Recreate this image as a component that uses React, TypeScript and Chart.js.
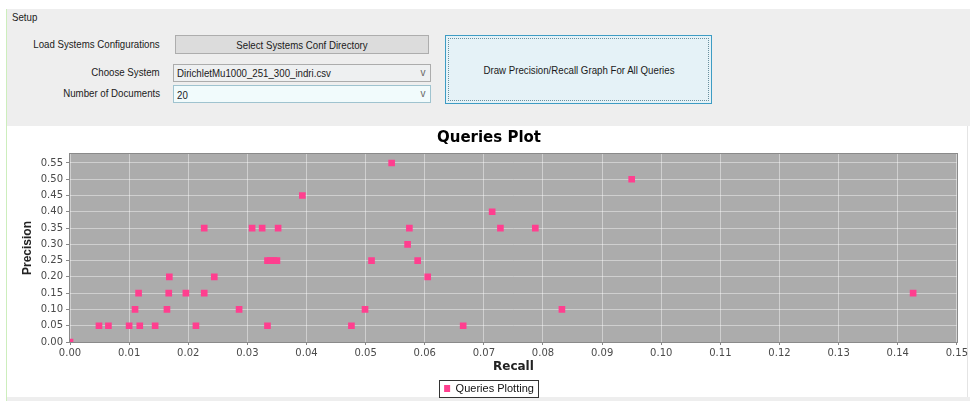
import React, { useEffect, useRef } from "react";
import { Chart, registerables } from "chart.js";

Chart.register(...registerables);

// ---- data ----
const chartTitle = "Queries Plot";
const seriesLabel = "Queries Plotting";
const xAxisTitle = "Recall";
const yAxisTitle = "Precision";

const recallValues = [
  0.0,
  0.0049, 0.0065, 0.01, 0.0118, 0.0144, 0.0213, 0.0334, 0.0476, 0.0665,
  0.011, 0.0164, 0.0286, 0.0499, 0.0832,
  0.0116, 0.0167, 0.0196, 0.0227, 0.1426,
  0.0168, 0.0244, 0.0605,
  0.0334, 0.0339, 0.0345, 0.035, 0.051, 0.0588,
  0.0571,
  0.0227, 0.0308, 0.0325, 0.0352, 0.0574, 0.0728, 0.0787,
  0.0714,
  0.0393,
  0.095,
  0.0544,
];
const precisionValues = [
  0.0,
  0.05, 0.05, 0.05, 0.05, 0.05, 0.05, 0.05, 0.05, 0.05,
  0.1, 0.1, 0.1, 0.1, 0.1,
  0.15, 0.15, 0.15, 0.15, 0.15,
  0.2, 0.2, 0.2,
  0.25, 0.25, 0.25, 0.25, 0.25, 0.25,
  0.3,
  0.35, 0.35, 0.35, 0.35, 0.35, 0.35, 0.35,
  0.4,
  0.45,
  0.5,
  0.55,
];

const xMin = 0;
const xMax = 0.15;
const xStep = 0.01;
const yMin = 0;
const yMax = 0.5775;
const yStep = 0.05;

const UI_FONT = '"Liberation Sans", Arial, sans-serif';

type TProps = {
  x: number;
  y: number;
  text: string;
  anchor?: "left" | "right" | "center";
  size?: number;
  sx?: number;
  color?: string;
};

function Txt({ x, y, text, anchor = "left", size = 11, sx = 0.88, color = "#1a1a1a" }: TProps) {
  const style: React.CSSProperties = {
    position: "absolute",
    top: y - 7,
    height: 14,
    lineHeight: "14px",
    fontSize: size,
    whiteSpace: "nowrap",
    color,
    transform: `scaleX(${sx})`,
  };
  if (anchor === "left") {
    style.left = x;
    style.transformOrigin = "left center";
  } else if (anchor === "right") {
    style.right = 970 - x;
    style.transformOrigin = "right center";
  } else {
    style.left = x - 200;
    style.width = 400;
    style.textAlign = "center";
    style.transformOrigin = "center center";
  }
  return <div style={style}>{text}</div>;
}

function Box({ l, t, w, h, bg, border }: { l: number; t: number; w: number; h: number; bg: string; border: string }) {
  return (
    <div
      style={{
        position: "absolute",
        left: l,
        top: t,
        width: w,
        height: h,
        background: bg,
        border: `1px solid ${border}`,
        boxSizing: "border-box",
      }}
    />
  );
}

const decorPlugin = {
  id: "decor",
  beforeDraw(chart: any) {
    const { ctx, chartArea: a } = chart;
    ctx.save();
    ctx.fillStyle = "#acacac";
    ctx.fillRect(a.left, a.top, a.right - a.left, a.bottom - a.top);
    ctx.restore();
  },
  afterDraw(chart: any) {
    const { ctx, chartArea: a } = chart;
    ctx.save();
    ctx.strokeStyle = "#8a8a8a";
    ctx.lineWidth = 1;
    ctx.strokeRect(Math.round(a.left) - 0.5, Math.round(a.top) - 0.5, Math.round(a.right - a.left) + 1, Math.round(a.bottom - a.top) + 1);
    const lg = chart.legend;
    if (lg && lg.legendHitBoxes && lg.legendHitBoxes.length) {
      const hb = lg.legendHitBoxes[0];
      const cy = hb.top + hb.height / 2;
      ctx.strokeStyle = "#333";
      ctx.strokeRect(Math.round(hb.left - 5) + 0.5, Math.round(cy - 8.5) + 0.5, Math.round(hb.width + 9), 17);
    }
    ctx.restore();
  },
};

function PlotCanvas() {
  const ref = useRef<HTMLCanvasElement | null>(null);
  useEffect(() => {
    if (!ref.current) return;
    const points = recallValues.map((r, i) => ({ x: r, y: precisionValues[i] }));
    const tickFont = { family: '"DejaVu Sans", Verdana, sans-serif', size: 10 };
    const chart = new Chart(ref.current, {
      type: "scatter",
      data: {
        datasets: [
          {
            label: seriesLabel,
            data: points,
            pointStyle: "rect",
            pointRadius: 4.7,
            pointHoverRadius: 4.7,
            pointBackgroundColor: "#ff3f8f",
            pointBorderWidth: 0,
            backgroundColor: "#ff3f8f",
            borderColor: "#ff3f8f",
            borderWidth: 0,
          },
        ],
      },
      options: {
        animation: false,
        responsive: false,
        devicePixelRatio: 1,
        layout: { padding: { left: 0, right: 0, top: 0, bottom: 0 } },
        plugins: {
          title: {
            display: true,
            text: chartTitle,
            color: "#000",
            font: { family: '"DejaVu Sans", Verdana, sans-serif', size: 15, weight: "bold" },
            padding: { top: 4, bottom: 7 },
          },
          legend: {
            display: true,
            position: "bottom",
            labels: {
              boxWidth: 6,
              boxHeight: 7,
              padding: 4,
              color: "#111",
              font: { family: UI_FONT, size: 11 },
            },
          },
          tooltip: { enabled: false },
        },
        scales: {
          x: {
            type: "linear",
            min: xMin,
            max: xMax,
            ticks: {
              stepSize: xStep,
              includeBounds: false,
              autoSkip: false,
              maxRotation: 0,
              font: tickFont,
              color: "#4a4a4a",
              padding: 2,
              callback: (v: any) => Number(v).toFixed(2),
            },
            grid: {
              color: "rgba(255,255,255,0.42)",
              lineWidth: 1,
              tickLength: 3,
              tickColor: "#888",
            },
            border: { display: false },
            title: {
              display: true,
              text: xAxisTitle,
              color: "#222",
              font: { family: '"DejaVu Sans", Verdana, sans-serif', size: 12, weight: "bold" },
              padding: { top: 0, bottom: 5 },
            },
            afterFit: (s: any) => {
              s.height = 37;
            },
          },
          y: {
            type: "linear",
            min: yMin,
            max: yMax,
            ticks: {
              stepSize: yStep,
              includeBounds: false,
              font: tickFont,
              color: "#4a4a4a",
              padding: 3,
              callback: (v: any) => Number(v).toFixed(2),
            },
            grid: {
              color: "rgba(255,255,255,0.42)",
              lineWidth: 1,
              tickLength: 4,
              tickColor: "#888",
            },
            border: { display: false },
            title: {
              display: true,
              text: yAxisTitle,
              color: "#222",
              font: { family: UI_FONT, size: 12, weight: "bold" },
              padding: { top: 12, bottom: 0 },
            },
            afterFit: (s: any) => {
              s.width = 62;
            },
          },
        },
      },
      plugins: [decorPlugin],
    } as any);
    return () => chart.destroy();
  }, []);
  return (
    <canvas
      ref={ref}
      width={962}
      height={279}
      style={{ position: "absolute", left: 8, top: 125, width: 962, height: 279 }}
    />
  );
}

export default function App() {
  return (
    <div
      style={{
        position: "fixed",
        left: 0,
        top: 0,
        width: 970,
        height: 401,
        background: "#ffffff",
        overflow: "hidden",
        fontFamily: UI_FONT,
      }}
    >
      {/* setup panel */}
      <div style={{ position: "absolute", left: 7, top: 9, width: 963, height: 117, background: "#eeeeee" }} />
      {/* chart panel */}
      <div style={{ position: "absolute", left: 8, top: 126, width: 960, height: 271, background: "#ffffff" }} />
      <div style={{ position: "absolute", left: 7, top: 397, width: 963, height: 4, background: "#eeeeee" }} />
      <div style={{ position: "absolute", left: 6, top: 9, width: 1, height: 392, background: "#cdeebd" }} />
      <div style={{ position: "absolute", left: 967, top: 126, width: 1, height: 271, background: "#e4e4e4" }} />

      <Txt x={12} y={17} text="Setup" />
      <Txt x={160} y={44} text="Load Systems Configurations" anchor="right" />
      <Box l={175} t={35} w={254} h={19} bg="#dcdcdc" border="#adadad" />
      <Txt x={302} y={44.5} text="Select Systems Conf Directory" anchor="center" />

      <Txt x={160} y={72} text="Choose System" anchor="right" />
      <Box l={173} t={64} w={258} h={18} bg="#eef0f1" border="#acacac" />
      <Txt x={177} y={73} text="DirichletMu1000_251_300_indri.csv" />
      <Txt x={423} y={73} text="v" anchor="center" color="#666" sx={1} size={10} />

      <Txt x={160} y={93} text="Number of Documents" anchor="right" />
      <Box l={173} t={85} w={258} h={18} bg="#f1fbfc" border="#9fc3cf" />
      <Txt x={177} y={94.5} text="20" />
      <Txt x={423} y={94} text="v" anchor="center" color="#666" sx={1} size={10} />

      <Box l={445} t={35} w={267} h={69} bg="#e5f2f7" border="#3d9cc4" />
      <div
        style={{
          position: "absolute",
          left: 448,
          top: 38,
          width: 261,
          height: 63,
          border: "1px dotted #6a8f9d",
          boxSizing: "border-box",
        }}
      />
      <Txt x={579} y={70} text="Draw Precision/Recall Graph For All Queries" anchor="center" />

      <PlotCanvas />
    </div>
  );
}
